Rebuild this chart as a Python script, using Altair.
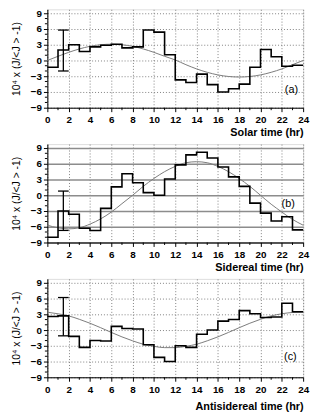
import altair as alt
import pandas as pd

FONT = "Liberation Sans"

hours = list(range(25))

# hourly step values (bin i covers hour i .. i+1)
solar_bins = [-1.3, 2.0, 3.0, 1.7, 2.6, 2.9, 3.1, 2.4, 2.6, 5.8, 5.4, 1.1,
              -3.7, -4.2, -2.6, -4.6, -6.0, -5.4, -4.5, -1.3, 2.1, 0.7, -1.1, -0.9]
sidereal_bins = [-8.0, -3.0, -3.6, -6.3, -6.7, -2.5, 1.6, 4.1, 2.4, 0.5, 0.0, 3.1,
                 5.8, 7.7, 8.2, 7.1, 5.4, 3.5, 1.7, -1.5, -3.4, -4.9, -4.1, -6.6]
antisid_bins = [2.6, 2.7, -1.2, -3.3, -2.0, -2.1, 0.7, 0.3, 0.2, -2.8, -5.2, -6.0,
                -3.0, -3.3, -0.8, 0.0, 1.7, 2.0, 3.7, 3.1, 2.4, 2.5, 5.1, 3.5]

# fitted curves read at each hour 0..24
solar_fit = [0.0, 0.8, 1.55, 2.2, 2.7, 3.0, 3.1, 3.0, 2.7, 2.2, 1.55, 0.8, 0.1,
             -0.8, -1.6, -2.25, -2.75, -3.05, -3.15, -3.05, -2.75, -2.25, -1.6, -0.8, 0.0]
sidereal_fit = [-5.7, -6.2, -6.4, -6.2, -5.5, -4.5, -3.2, -1.6, 0.0, 1.7, 3.2, 4.5, 5.5,
                6.2, 6.4, 6.2, 5.5, 4.5, 3.2, 1.7, 0.0, -1.7, -3.2, -4.6, -5.7]
antisid_fit = [3.4, 3.1, 2.7, 2.05, 1.3, 0.45, -0.45, -1.3, -2.05, -2.7, -3.1, -3.35, -3.35,
               -3.1, -2.7, -2.05, -1.3, -0.45, 0.45, 1.3, 2.05, 2.7, 3.1, 3.35, 3.4]

# error bars: x position, low, high
err_x = [1.5, 1.5, 1.5]
err_low = [-2.0, -6.7, -1.1]
err_high = [5.8, 0.8, 6.2]

panel_tags = ["(a)", "(b)", "(c)"]
tag_x = [22.9, 22.6, 22.8]
tag_y = [-5.6, -1.7, -5.1]
x_titles = ["Solar time (hr)", "Sidereal time (hr)", "Antisidereal time (hr)"]
title_pads = [2, 2, 7]
y_title = "10\u2074 x (J/<J > -1)"

x_ticks = list(range(0, 25, 2))
x_minor = list(range(1, 24, 2))
y_ticks = [-9, -6, -3, 0, 3, 6, 9]
y_minor = [v for v in range(-8, 10) if v % 3 != 0]

W, H = 260, 100
CAP = 0.5


def panel(i, bins, fit, solid_hgrid):
    xscale = alt.Scale(domain=[0, 24], nice=False, zero=False)
    yscale = alt.Scale(domain=[-9, 9.75], nice=False, zero=False)
    xaxis = alt.Axis(values=x_ticks, title=x_titles[i], titleAnchor="end",
                     titleFont=FONT, titleFontSize=11, titleFontWeight="bold",
                     titleColor="black", titlePadding=title_pads[i],
                     labelFont=FONT, labelFontSize=10, labelFontWeight="bold",
                     labelColor="black", labelPadding=3, labelFlush=False,
                     tickSize=4, tickColor="black", domainColor="black",
                     grid=True, gridDash=[1, 2], gridColor="#808080", gridWidth=1)
    if solid_hgrid:
        ygrid = dict(gridColor="#8c8c8c", gridWidth=1.6)
    else:
        ygrid = dict(gridDash=[1, 2], gridColor="#808080", gridWidth=1)
    yaxis = alt.Axis(values=y_ticks, title=y_title,
                     titleFont=FONT, titleFontSize=10.5, titleFontWeight="normal",
                     titleColor="black", titlePadding=9,
                     labelFont=FONT, labelFontSize=10, labelFontWeight="bold",
                     labelColor="black", labelPadding=2,
                     tickSize=4, tickColor="black", domainColor="black",
                     grid=True, **ygrid)
    X = alt.X("x:Q", scale=xscale, axis=xaxis)
    Y = alt.Y("y:Q", scale=yscale, axis=yaxis)

    step_df = pd.DataFrame({"x": hours, "y": bins + [bins[-1]]})
    fit_df = pd.DataFrame({"x": hours, "y": fit})
    eb_df = pd.DataFrame({"x": [err_x[i]], "y": [err_low[i]], "y2": [err_high[i]]})
    cap_df = pd.DataFrame({"x": [err_x[i] - CAP, err_x[i] - CAP],
                           "x2": [err_x[i] + CAP, err_x[i] + CAP],
                           "y": [err_low[i], err_high[i]]})
    tag_df = pd.DataFrame({"x": [tag_x[i]], "y": [tag_y[i]], "t": [panel_tags[i]]})
    ymin_df = pd.DataFrame({"y": y_minor})
    xmin_df = pd.DataFrame({"x": x_minor})

    fit_line = alt.Chart(fit_df).mark_line(interpolate="monotone", color="#7a7a7a",
                                           strokeWidth=1).encode(x=X, y=Y)
    step_line = alt.Chart(step_df).mark_line(interpolate="step-after", color="black",
                                             strokeWidth=1.6).encode(x=X, y=Y)
    eb = alt.Chart(eb_df).mark_rule(color="black", strokeWidth=1.3).encode(x=X, y=Y, y2="y2:Q")
    caps = alt.Chart(cap_df).mark_rule(color="black", strokeWidth=1.3).encode(x=X, x2="x2:Q", y=Y)
    tag = alt.Chart(tag_df).mark_text(font=FONT, fontSize=11, color="black").encode(x=X, y=Y, text="t:N")
    ymin = alt.Chart(ymin_df).mark_rule(color="black", strokeWidth=1).encode(
        y=Y, x=alt.value(-2.5), x2=alt.value(0))
    xmin = alt.Chart(xmin_df).mark_rule(color="black", strokeWidth=1).encode(
        x=X, y=alt.value(H), y2=alt.value(H + 2.5))

    return alt.layer(fit_line, step_line, eb, caps, tag, ymin, xmin).properties(width=W, height=H)


chart = alt.vconcat(
    panel(0, solar_bins, solar_fit, False),
    panel(1, sidereal_bins, sidereal_fit, True),
    panel(2, antisid_bins, antisid_fit, False),
    spacing=4,
).properties(
    padding={"left": 3, "top": -4, "right": 2, "bottom": 0}
).configure_view(strokeWidth=0).configure(background="white")

chart.save("out.html", embed_options={"renderer": "svg", "actions": False})
